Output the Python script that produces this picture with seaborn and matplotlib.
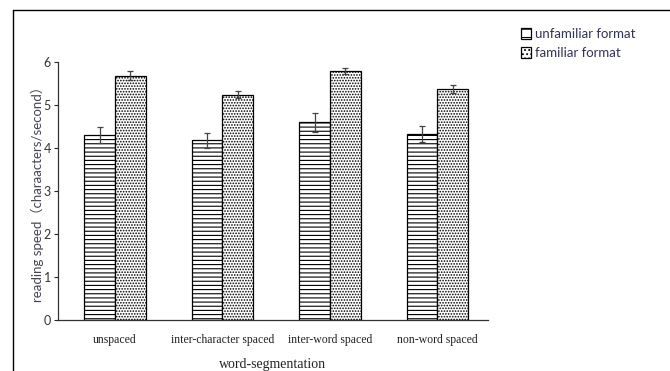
import pandas as pd
import matplotlib.pyplot as plt
import seaborn as sns
from matplotlib.lines import Line2D

sns.set_style("ticks")
plt.rcParams["font.family"] = ["Lato", "Noto Sans CJK SC", "DejaVu Sans"]
plt.rcParams["hatch.linewidth"] = 0.8

conditions = ["unspaced", "inter-character spaced", "inter-word spaced", "non-word spaced"]
formats = ["unfamiliar format", "familiar format"]
unfamiliar = [4.30, 4.18, 4.60, 4.33]
familiar = [5.68, 5.24, 5.78, 5.37]
unfamiliar_err = [0.19, 0.17, 0.22, 0.19]
familiar_err = [0.10, 0.08, 0.07, 0.09]
hatches = ["----", "......"]
legend_hatches = ["--", "...."]

df = pd.DataFrame({
  "condition": conditions * 2,
  "format": [formats[0]] * 4 + [formats[1]] * 4,
  "speed": unfamiliar + familiar,
  "err": unfamiliar_err + familiar_err,
})

fig = plt.figure(figsize=(6.7, 3.71), dpi=100)
ax = fig.add_axes([58 / 670, 1 - 320 / 371, 430 / 670, 258 / 371])

sns.barplot(
  data=df, x="condition", y="speed", hue="format",
  order=conditions, hue_order=formats,
  palette=["white", "white"], edgecolor="black", linewidth=0.9,
  width=0.57, gap=0, errorbar=None, ax=ax
)

for container, hatch, errs in zip(ax.containers, hatches, [unfamiliar_err, familiar_err]):
  for bar, e in zip(container, errs):
    bar.set_hatch(hatch)
    ax.errorbar(
      bar.get_x() + bar.get_width() / 2, bar.get_height(), yerr=e,
      color="#444444", elinewidth=0.9, capsize=2.5, capthick=0.9, zorder=5
    )

ax.set_ylim(0, 6)
ax.set_xlim(-0.53, 3.47)
ax.set_yticks(range(0, 7))
ax.tick_params(axis="y", labelsize=9, labelcolor="#333333", length=3, width=0.8, pad=2)
ax.tick_params(axis="x", length=0, pad=10)
for lbl in ax.get_xticklabels():
  lbl.set_fontfamily("Liberation Serif")
  lbl.set_fontsize(8.5)
  lbl.set_color("#222222")
ax.set_xlabel("word-segmentation", fontfamily="Liberation Serif", fontsize=10,
              color="#222222", labelpad=9)
ax.set_ylabel("reading speed（charaacters/second）", fontsize=9.5, color="#444455", labelpad=0)
sns.despine(ax=ax)
for s in ["left", "bottom"]:
  ax.spines[s].set_linewidth(0.9)
  ax.spines[s].set_color("#333333")

handles, labels = ax.get_legend_handles_labels()
ax.legend_.remove()
for h, hatch in zip(handles, legend_hatches):
  h.set_hatch(hatch)
  h.set_edgecolor("black")
leg = fig.legend(
  handles, labels, loc="upper left", bbox_to_anchor=(516 / 670, 1 - 23 / 371),
  frameon=False, fontsize=9.5, handlelength=0.75, handleheight=0.9,
  handletextpad=0.3, labelspacing=0.5, borderaxespad=0
)
for t in leg.get_texts():
  t.set_color("#333355")

fig.add_artist(Line2D([13 / 670, 13 / 670], [0, 1 - 10 / 371], transform=fig.transFigure,
                      color="black", linewidth=1))
fig.add_artist(Line2D([13 / 670, 1], [1 - 10 / 371, 1 - 10 / 371], transform=fig.transFigure,
                      color="black", linewidth=1))

fig.savefig("out.png", dpi=100)
